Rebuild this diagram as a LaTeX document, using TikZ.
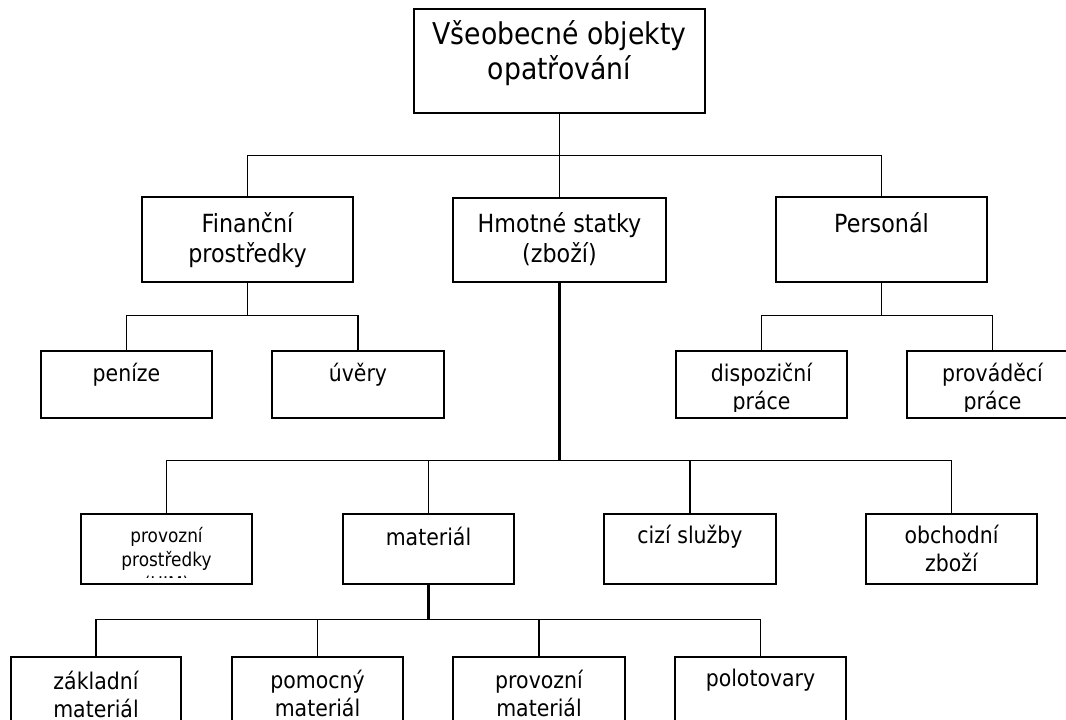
\documentclass[tikz,border=0pt]{standalone}
\usepackage{fontspec}
\setmainfont{DejaVu Sans}[FakeStretch=0.89]
\usetikzlibrary{fit}

% text of a box: first baseline #3 below the box top, clipped to the box interior
\newcommand\boxtext[5]{%
  \begin{scope}
    \clip ([xshift=1pt,yshift=-1pt]#2.north west) rectangle ([xshift=-1pt,yshift=5.25pt]#2.south east);
    \node[#4] (#1) at ([yshift=-#3]#2.north) {\begin{tabular}[t]{@{}c@{}}#5\end{tabular}};
  \end{scope}}

\tikzset{
  box/.style={draw=black, line width=1.1pt, inner sep=0pt, rectangle},
  conn/.style={draw=black, line width=0.95pt},
  trunk/.style={draw=black, line width=1.8pt},
  lbl/.style={anchor=base, inner sep=0pt},
  fTop/.style={lbl, font=\fontsize{22.5pt}{26.25pt}\selectfont},
  fTwo/.style={lbl, font=\fontsize{18.75pt}{22.5pt}\selectfont},
  fLow/.style={lbl, font=\fontsize{17.25pt}{21pt}\selectfont},
  fSmall/.style={lbl, font=\fontsize{14.25pt}{18pt}\selectfont},
}

\begin{document}
\begin{tikzpicture}[x=0.75pt, y=-0.75pt]
  \fill[white] (0,0) rectangle (1066,719);
  \useasboundingbox (0,0) rectangle (1066,719);
  \clip (0,0) rectangle (1066,719);

  % boxes
  \node[box, fit={(414,9) (705,113)}] (vseob) {};
  \node[box, fit={(142,197) (353,282)}] (fin) {};
  \node[box, fit={(453,198) (666,282)}] (hmot) {};
  \node[box, fit={(776,197) (987,282)}] (pers) {};
  \node[box, fit={(41,351) (212,418)}] (pen) {};
  \node[box, fit={(272,351) (444,418)}] (uver) {};
  \node[box, fit={(676,351) (847,418)}] (disp) {};
  \node[box, fit={(907,351) (1078,418)}] (prov) {};
  \node[box, fit={(81,514) (252,584)}] (ppro) {};
  \node[box, fit={(343,514) (514,584)}] (mat) {};
  \node[box, fit={(604,514) (776,584)}] (cizi) {};
  \node[box, fit={(866,514) (1037,584)}] (obch) {};
  \node[box, fit={(11,657) (181,727)}] (zakl) {};
  \node[box, fit={(232,657) (403,727)}] (pomo) {};
  \node[box, fit={(453,657) (625,727)}] (pmat) {};
  \node[box, fit={(675,657) (846,727)}] (polo) {};

  % texts
  \boxtext{t-vseob}{vseob}{27pt}{fTop}{Všeobecné objekty\\opatřování}
  \boxtext{t-fin}{fin}{27pt}{fTwo}{Finanční\\prostředky}
  \boxtext{t-hmot}{hmot}{26.25pt}{fTwo}{Hmotné statky\\(zboží)}
  \boxtext{t-pers}{pers}{27pt}{fTwo}{Personál}
  \boxtext{t-pen}{pen}{23.25pt}{fLow}{peníze}
  \boxtext{t-uver}{uver}{23.25pt}{fLow}{úvěry}
  \boxtext{t-disp}{disp}{23.25pt}{fLow}{dispoziční\\práce}
  \boxtext{t-prov}{prov}{23.25pt}{fLow}{prováděcí\\práce}
  \boxtext{t-ppro}{ppro}{21.75pt}{fSmall}{provozní\\prostředky\\(HIM)}
  \boxtext{t-mat}{mat}{24pt}{fLow}{materiál}
  \boxtext{t-cizi}{cizi}{22.5pt}{fLow}{cizí služby}
  \boxtext{t-obch}{obch}{22.5pt}{fLow}{obchodní\\zboží}
  \boxtext{t-zakl}{zakl}{24.75pt}{fLow}{základní\\materiál}
  \boxtext{t-pomo}{pomo}{24pt}{fLow}{pomocný\\materiál}
  \boxtext{t-pmat}{pmat}{24pt}{fLow}{provozní\\materiál}
  \boxtext{t-polo}{polo}{22.5pt}{fLow}{polotovary}

  % bus points
  \path (vseob.south) ++(0,42) coordinate (b0);
  \path (fin.south) ++(0,33) coordinate (b1);
  \path (pers.south) ++(0,33) coordinate (b2);
  \path (hmot.south) ++(0,178) coordinate (b3);
  \path (mat.south) ++(0,35) coordinate (b4);

  % connectors
  \draw[conn, line width=1.3pt] (vseob.south) -- (b0);
  \draw[conn] (b0) -- (hmot.north);
  \draw[conn] (fin.north) |- (b0) -| (pers.north);

  \draw[conn, line width=1.2pt] (fin.south) -- (b1);
  \draw[conn] (pen.north) |- (b1) -| (uver.north);

  \draw[conn, line width=1.2pt] (pers.south) -- (b2);
  \draw[conn] (disp.north) |- (b2) -| (prov.north);

  \draw[trunk] (hmot.south) -- (b3);
  \draw[conn] (ppro.north) |- (b3) -| (obch.north);
  \draw[conn] (mat.north) -- (mat.north |- b3);
  \draw[conn] (cizi.north) -- (cizi.north |- b3);

  \draw[trunk] (mat.south) -- (b4);
  \draw[conn] (zakl.north) |- (b4) -| (polo.north);
  \draw[conn] (pomo.north) -- (pomo.north |- b4);
  \draw[conn] (pmat.north) -- (pmat.north |- b4);
\end{tikzpicture}
\end{document}
